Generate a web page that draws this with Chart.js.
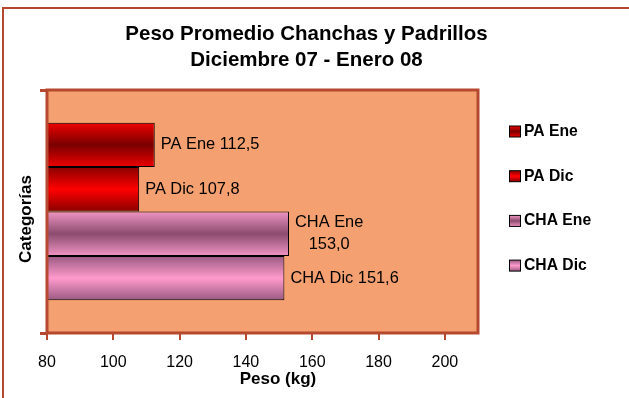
<!DOCTYPE html>
<html>
<head>
<meta charset="utf-8">
<script src="https://cdn.jsdelivr.net/npm/chart.js@4/dist/chart.umd.min.js"></script>
<style>
  html, body { margin: 0; padding: 0; background: #ffffff; }
  #wrap { width: 629px; height: 398px; }
</style>
</head>
<body>
<div id="wrap"><canvas id="chart" width="629" height="398"></canvas></div>
<script>
// Chart data
const categories = [''];
const seriesNames = ['PA Ene', 'PA Dic', 'CHA Ene', 'CHA Dic'];
const seriesValues = [112.5, 107.8, 153.0, 151.6];
const labelWrap = [false, false, true, false];
const xTickValues = [80, 100, 120, 140, 160, 180, 200];
const xMin = 80;
const xMax = 210;

// gradient stops per series: [edge, middle]
const seriesColors = [
    ['#ee0000', '#7a0000'],
    ['#8a0000', '#ff0000'],
    ['#f095c4', '#8c4c6e'],
    ['#9a5a82', '#ff9acc']
];

const FONT = "'Liberation Sans', Arial, sans-serif";
const BROWN = '#b5482f';
const PLOT_BG = '#f4a070';
const CAT_PCT = 0.731;

function vGradient(ctx2d, top, bottom, stops) {
    const g = ctx2d.createLinearGradient(0, top, 0, bottom);
    g.addColorStop(0, stops[0]);
    g.addColorStop(0.5, stops[1]);
    g.addColorStop(1, stops[0]);
    return g;
}

function barFill(context) {
    const chart = context.chart;
    const stops = seriesColors[context.datasetIndex];
    const yScale = chart.scales.y;
    if (!chart.chartArea || !yScale) return stops[1];
    const catH = (yScale.bottom - yScale.top) / categories.length * CAT_PCT;
    const barH = catH / seriesNames.length;
    const top = yScale.getPixelForValue(0) - catH / 2 + context.datasetIndex * barH;
    return vGradient(chart.ctx, top, top + barH, stops);
}

const decorations = {
    id: 'decorations',
    beforeDraw(chart) {
        const { ctx, chartArea: a } = chart;
        ctx.save();
        ctx.fillStyle = PLOT_BG;
        ctx.fillRect(a.left, a.top, a.right - a.left, a.bottom - a.top);
        ctx.restore();
    },
    afterDatasetsDraw(chart) {
        const { ctx, chartArea: a } = chart;
        ctx.save();
        // plot border
        ctx.strokeStyle = BROWN;
        ctx.lineWidth = 3;
        ctx.strokeRect(a.left, a.top, a.right - a.left, a.bottom - a.top);

        // value labels
        ctx.fillStyle = '#000';
        ctx.font = '16.4px ' + FONT;
        ctx.textBaseline = 'middle';
        seriesNames.forEach((name, i) => {
            const bar = chart.getDatasetMeta(i).data[0];
            const val = seriesValues[i].toFixed(1).replace('.', ',');
            const x = bar.x + 6;
            if (labelWrap[i]) {
                const w = ctx.measureText(name).width;
                ctx.textAlign = 'center';
                ctx.fillText(name, x + w / 2, bar.y - 11);
                ctx.fillText(val, x + w / 2, bar.y + 10.5);
            } else {
                ctx.textAlign = 'left';
                ctx.fillText(name + ' ' + val, x, bar.y);
            }
        });
        ctx.restore();
    },
    afterDraw(chart) {
        const ctx = chart.ctx;
        ctx.save();
        // outer frame
        ctx.strokeStyle = BROWN;
        ctx.lineWidth = 2;
        ctx.beginPath();
        ctx.moveTo(3, 398);
        ctx.lineTo(3, 8);
        ctx.lineTo(629, 8);
        ctx.stroke();

        // title
        ctx.fillStyle = '#000';
        ctx.textAlign = 'center';
        ctx.textBaseline = 'alphabetic';
        ctx.font = 'bold 20.5px ' + FONT;
        ctx.fillText('Peso Promedio Chanchas y Padrillos', 306.5, 40);
        ctx.fillText('Diciembre 07 - Enero 08', 306.5, 66);

        // axis titles
        ctx.font = 'bold 17px ' + FONT;
        ctx.fillText('Peso (kg)', 278, 384);
        ctx.save();
        ctx.translate(30.5, 219);
        ctx.rotate(-Math.PI / 2);
        ctx.fillText('Categorías', 0, 0);
        ctx.restore();

        // legend
        ctx.font = 'bold 15.7px ' + FONT;
        ctx.textAlign = 'left';
        ctx.textBaseline = 'middle';
        seriesNames.forEach((name, i) => {
            const y = 131.5 + i * 44.7;
            ctx.fillStyle = vGradient(ctx, y - 5.5, y + 5.5, seriesColors[i]);
            ctx.fillRect(509.5, y - 5.5, 11, 11);
            ctx.strokeStyle = '#000';
            ctx.lineWidth = 1;
            ctx.strokeRect(509.5, y - 5.5, 11, 11);
            ctx.fillStyle = '#000';
            ctx.fillText(name, 524, y);
        });
        ctx.restore();
    }
};

new Chart(document.getElementById('chart'), {
    type: 'bar',
    data: {
        labels: categories,
        datasets: seriesNames.map((name, i) => ({
            label: name,
            data: [seriesValues[i]],
            backgroundColor: barFill,
            borderColor: '#000',
            borderWidth: 1,
            borderSkipped: false,
            categoryPercentage: CAT_PCT,
            barPercentage: 1.0
        }))
    },
    options: {
        indexAxis: 'y',
        responsive: false,
        animation: false,
        layout: { padding: { left: 40, top: 90, right: 151, bottom: 0 } },
        plugins: {
            legend: { display: false },
            title: { display: false },
            tooltip: { enabled: false }
        },
        scales: {
            x: {
                min: xMin,
                max: xMax,
                ticks: {
                    color: '#000',
                    padding: 13,
                    font: { family: FONT, size: 16 }
                },
                afterBuildTicks(axis) {
                    axis.ticks = xTickValues.map(v => ({ value: v }));
                },
                afterFit(axis) { axis.height = 65; },
                grid: {
                    drawOnChartArea: false,
                    drawTicks: true,
                    tickLength: 7,
                    color: BROWN,
                    lineWidth: 2
                },
                border: { display: false }
            },
            y: {
                ticks: { display: false },
                afterFit(axis) { axis.width = 7; },
                grid: {
                    drawOnChartArea: false,
                    drawTicks: true,
                    tickLength: 7,
                    color: BROWN,
                    lineWidth: 3
                },
                border: { display: false }
            }
        }
    },
    plugins: [decorations]
});
</script>
</body>
</html>
